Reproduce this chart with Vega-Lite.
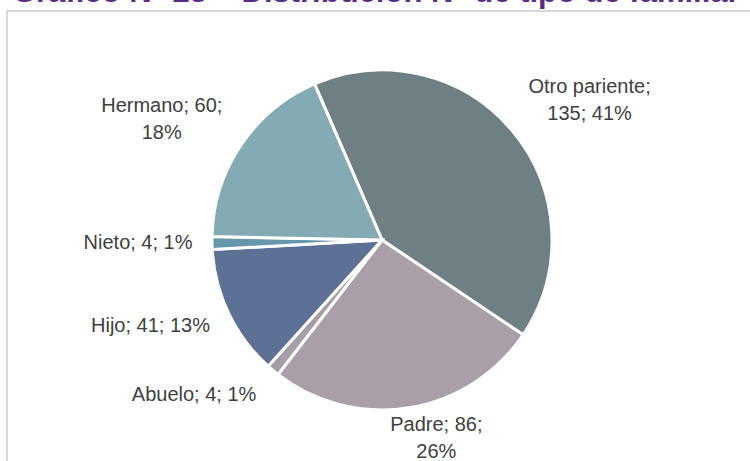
{
  "$schema": "https://vega.github.io/schema/vega-lite/v6.json",
  "width": 750,
  "height": 458,
  "autosize": {"type": "none"},
  "padding": {"left": 7, "top": 11, "right": -7, "bottom": -8},
  "background": "white",
  "view": {"stroke": "#d9d9d9", "strokeWidth": 2, "fill": "white"},
  "title": {
    "text": "Gráfico N° 23 – Distribución N° de tipo de familiar entrevistado",
    "anchor": "start",
    "frame": "group",
    "orient": "top",
    "offset": 0,
    "baseline": "alphabetic",
    "dx": 5,
    "dy": 22,
    "font": "Liberation Sans",
    "fontSize": 31,
    "fontWeight": "bold",
    "color": "#5b2c86"
  },
  "data": {
    "values": [
      {"tipo": "Otro pariente", "n": 135, "label": "Otro pariente;\n135; 41%"},
      {"tipo": "Padre", "n": 86, "label": "Padre; 86;\n26%"},
      {"tipo": "Abuelo", "n": 4, "label": "Abuelo; 4; 1%"},
      {"tipo": "Hijo", "n": 41, "label": "Hijo; 41; 13%"},
      {"tipo": "Nieto", "n": 4, "label": "Nieto; 4; 1%"},
      {"tipo": "Hermano", "n": 60, "label": "Hermano; 60;\n18%"}
    ]
  },
  "encoding": {
    "theta": {"field": "n", "type": "quantitative", "stack": true, "scale": {"range": [-0.408, 5.875]}},
    "order": {"field": "sortkey", "type": "quantitative"}
  },
  "transform": [
    {"window": [{"op": "row_number", "as": "sortkey"}]}
  ],
  "layer": [
    {
      "mark": {"type": "arc", "outerRadius": 170, "stroke": "white", "strokeWidth": 3},
      "encoding": {
        "color": {
          "field": "tipo",
          "type": "nominal",
          "legend": null,
          "scale": {
            "domain": ["Otro pariente", "Padre", "Abuelo", "Hijo", "Nieto", "Hermano"],
            "range": ["#6e8083", "#a89fa8", "#a69ea7", "#5d7096", "#6797ad", "#84aab3"]
          }
        }
      }
    },
    {
      "mark": {
        "type": "text",
        "radius": 240,
        "font": "Liberation Sans",
        "fontSize": 20,
        "lineHeight": 27,
        "lineBreak": "\n",
        "color": "#404040",
        "align": "center",
        "baseline": "middle",
        "dx": {"expr": "datum.tipo === 'Otro pariente' ? 23 : datum.tipo === 'Padre' ? 16 : datum.tipo === 'Abuelo' ? -34 : datum.tipo === 'Hijo' ? -15 : datum.tipo === 'Nieto' ? -4 : -21"},
        "dy": {"expr": "datum.tipo === 'Otro pariente' ? 0 : datum.tipo === 'Padre' ? -52 : datum.tipo === 'Abuelo' ? -29 : datum.tipo === 'Hijo' ? -18 : datum.tipo === 'Nieto' ? -1 : 0"}
      },
      "encoding": {
        "text": {"field": "label", "type": "nominal"}
      }
    }
  ]
}
